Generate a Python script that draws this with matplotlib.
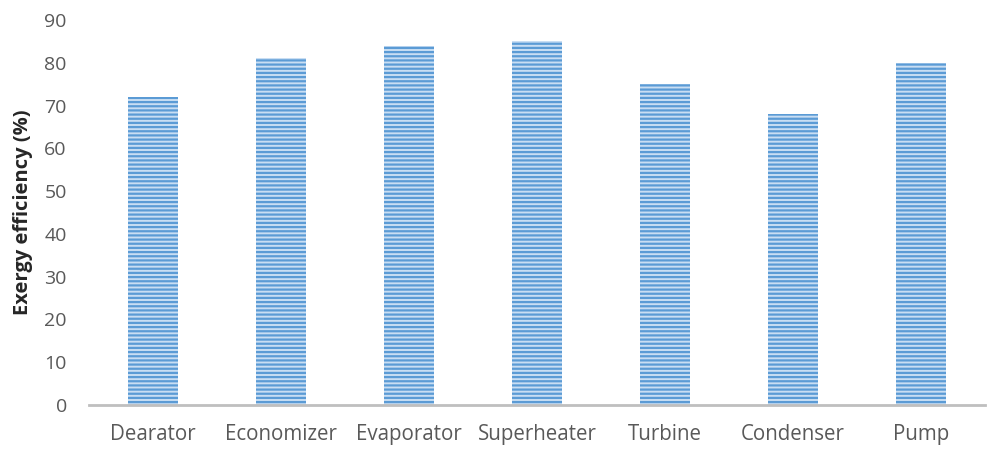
import matplotlib
matplotlib.use("Agg")
import matplotlib.pyplot as plt

categories = ["Dearator", "Economizer", "Evaporator", "Superheater", "Turbine", "Condenser", "Pump"]
values = [72, 81, 84, 85, 75, 68, 80]
yticks = [0, 10, 20, 30, 40, 50, 60, 70, 80, 90]

plt.rcParams['font.family'] = ['Open Sans', 'DejaVu Sans']
plt.rcParams['hatch.linewidth'] = 1.6

fig = plt.figure(figsize=(9.89, 4.5), dpi=100)
ax = fig.add_axes([0.09, 0.1, 0.906, 0.8556])

x = list(range(len(categories)))
ax.bar(x, values, width=0.39, color='#C9DEF3', edgecolor='#5B9BD5',
       linewidth=0, hatch='----')

ax.set_xlim(-0.5, len(categories) - 0.5)
ax.set_ylim(0, 90)
ax.set_yticks(yticks)
ax.set_xticks(x)
ax.set_xticklabels(categories)
ax.tick_params(axis='x', length=0, labelsize=14.8, colors='#595959', pad=14)
ax.tick_params(axis='y', length=0, labelsize=14, colors='#595959', pad=16)
for s in ['top', 'right', 'left']:
    ax.spines[s].set_visible(False)
ax.spines['bottom'].set_color('#BFBFBF')
ax.spines['bottom'].set_linewidth(2)
ax.set_ylabel('Exergy efficiency (%)', fontsize=14.5, fontweight='bold', color='#262626', labelpad=8)

fig.savefig('out.png', dpi=100)
